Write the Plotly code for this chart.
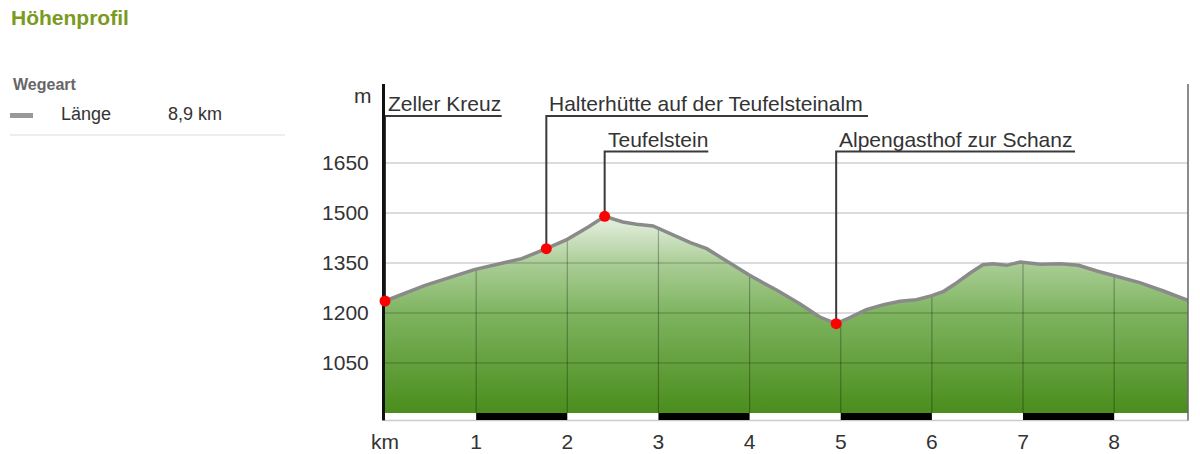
import numpy as np
import plotly.graph_objects as go

# ---------------- data ----------------
DIST_KM = [0.0, 0.44, 0.98, 1.28, 1.50, 1.77, 2.00, 2.23, 2.41, 2.61, 2.76, 2.94,
           3.16, 3.35, 3.53, 3.82, 4.00, 4.30, 4.55, 4.77, 4.95, 5.09, 5.28, 5.47,
           5.65, 5.83, 6.00, 6.13, 6.27, 6.42, 6.56, 6.67, 6.82, 6.97, 7.19, 7.41,
           7.61, 7.81, 8.01, 8.28, 8.54, 8.81]
ELEV_M = [1236, 1283, 1330, 1348, 1363, 1393, 1421, 1458, 1490, 1473, 1466, 1461,
          1433, 1411, 1393, 1343, 1313, 1268, 1228, 1188, 1168, 1185, 1210, 1225,
          1235, 1240, 1252, 1265, 1290, 1320, 1345, 1348, 1343, 1353, 1346, 1348,
          1343, 1326, 1310, 1291, 1266, 1238]

WAYPOINT_NAMES = ["Zeller Kreuz", "Halterhütte auf der Teufelsteinalm",
                  "Teufelstein", "Alpengasthof zur Schanz"]
WAYPOINT_KM = [0.0, 1.77, 2.41, 4.95]
WAYPOINT_ELEV = [1236, 1393, 1490, 1168]

Y_TICKS = [1050, 1200, 1350, 1500, 1650]
X_TICKS = [0, 1, 2, 3, 4, 5, 6, 7, 8]
X_TICK_LABELS = ["km", "1", "2", "3", "4", "5", "6", "7", "8"]

TITLE = "Höhenprofil"
LEGEND_HEADER = "Wegeart"
LEGEND_ITEM = "Länge"
ROUTE_LENGTH = "8,9 km"

# ---------------- layout constants ----------------
W, H = 1200, 454
ML, MR, MT, MB = 385, 12, 84, 41
PW, PH = W - ML - MR, H - MT - MB
Y_RANGE = [900, 1887]
X_MAX = max(DIST_KM)
FONT = "Liberation Sans, Arial, sans-serif"
TEXT_COL = "#333333"


def px(x):   # pixel x -> paper
    return (x - ML) / PW


def py(y):   # pixel y -> paper
    return (H - MB - y) / PH


def y_data(y):  # pixel y -> data y
    return Y_RANGE[0] + py(y) * (Y_RANGE[1] - Y_RANGE[0])


def x_data(x):  # pixel x -> data x
    return px(x) * X_MAX


# label placement (pixel positions of the underline level and underline end)
LABEL_LEVEL = [y_data(116), y_data(116), y_data(151.5), y_data(151.5)]
LABEL_END = [x_data(501.7), x_data(868), x_data(708.3), x_data(1075)]

fig = go.Figure()

# filled profile area with vertical gradient
fig.add_trace(go.Scatter(
    x=DIST_KM, y=ELEV_M, mode="lines", line=dict(width=0),
    fill="tozeroy",
    fillgradient=dict(type="vertical", start=900, stop=1490,
                      colorscale=[[0.0, "#4a8d1c"], [0.5, "#7db35e"],
                                  [0.76, "#aacd96"], [1.0, "#e8f1e3"]]),
    hoverinfo="skip"))

# grid lines (horizontal across, vertical only under the profile)
gx, gy = [], []
for t in Y_TICKS:
    gx += [0, X_MAX, None]
    gy += [t, t, None]
for k in X_TICKS[1:]:
    gx += [k, k, None]
    gy += [Y_RANGE[0], float(np.interp(k, DIST_KM, ELEV_M)), None]
fig.add_trace(go.Scatter(x=gx, y=gy, mode="lines",
                         line=dict(color="rgba(0,0,0,0.28)", width=1.2),
                         hoverinfo="skip"))

# profile line
fig.add_trace(go.Scatter(x=DIST_KM, y=ELEV_M, mode="lines",
                         line=dict(color="#8a8a8a", width=3.5),
                         hoverinfo="skip"))

# pointer lines to labels
lx, ly = [], []
for k, e, lvl, end in zip(WAYPOINT_KM, WAYPOINT_ELEV, LABEL_LEVEL, LABEL_END):
    lx += [k, k, end, None]
    ly += [e, lvl, lvl, None]
fig.add_trace(go.Scatter(x=lx, y=ly, mode="lines",
                         line=dict(color="#3a3a3a", width=2),
                         hoverinfo="skip"))

# waypoint markers
fig.add_trace(go.Scatter(x=WAYPOINT_KM, y=WAYPOINT_ELEV, mode="markers",
                         marker=dict(color="#ff0000", size=11),
                         cliponaxis=False, hoverinfo="skip"))

annotations = []
for name, k, lvl in zip(WAYPOINT_NAMES, WAYPOINT_KM, LABEL_LEVEL):
    annotations.append(dict(x=k, y=lvl, xref="x", yref="y", text=name,
                            showarrow=False, xanchor="left", yanchor="middle",
                            xshift=1, yshift=12.5,
                            font=dict(family=FONT, size=21, color=TEXT_COL)))

# unit label "m"
annotations.append(dict(x=px(373.7), y=py(95.6), xref="paper", yref="paper",
                        text="m", showarrow=False, xanchor="right",
                        yanchor="middle",
                        font=dict(family=FONT, size=21, color=TEXT_COL)))

# left legend block
annotations.append(dict(x=px(11), y=py(85), xref="paper", yref="paper",
                        text="<b>" + LEGEND_HEADER + "</b>", showarrow=False,
                        xanchor="left", yanchor="middle",
                        font=dict(family=FONT, size=16, color="#666666")))
annotations.append(dict(x=px(59), y=py(114.4), xref="paper", yref="paper",
                        text=LEGEND_ITEM, showarrow=False,
                        xanchor="left", yanchor="middle",
                        font=dict(family=FONT, size=18, color=TEXT_COL)))
annotations.append(dict(x=px(166), y=py(114.4), xref="paper", yref="paper",
                        text=ROUTE_LENGTH, showarrow=False,
                        xanchor="left", yanchor="middle",
                        font=dict(family=FONT, size=18, color=TEXT_COL)))

shapes = []
# legend dash and separator
shapes.append(dict(type="line", xref="paper", yref="paper",
                   x0=px(10), x1=px(33), y0=py(115.5), y1=py(115.5),
                   line=dict(color="#999999", width=5)))
shapes.append(dict(type="line", xref="paper", yref="paper",
                   x0=px(10), x1=px(285), y0=py(135), y1=py(135),
                   line=dict(color="#dddddd", width=1)))

# scale bar under the plot
bar_bottom = -7.0 / PH
shapes.append(dict(type="line", xref="x", yref="paper", x0=0, x1=X_MAX,
                   y0=-7.5 / PH, y1=-7.5 / PH,
                   line=dict(color="#cccccc", width=1.5)))
for k in X_TICKS[1::2]:
    shapes.append(dict(type="rect", xref="x", yref="paper",
                       x0=k, x1=min(k + 1, X_MAX), y0=bar_bottom, y1=0,
                       fillcolor="#000000", line=dict(width=0)))
# left axis extension and right border
shapes.append(dict(type="line", xref="paper", yref="paper",
                   x0=-1.5 / PW, x1=-1.5 / PW, y0=-7.5 / PH, y1=0,
                   line=dict(color="#111111", width=3)))
shapes.append(dict(type="line", xref="paper", yref="paper",
                   x0=1, x1=1, y0=-7.5 / PH, y1=1,
                   line=dict(color="#666666", width=1.5)))

fig.update_layout(
    width=W, height=H,
    margin=dict(l=ML, r=MR, t=MT, b=MB, pad=0, autoexpand=False),
    paper_bgcolor="white", plot_bgcolor="white",
    showlegend=False, hovermode=False,
    title=dict(text="<b>" + TITLE + "</b>", x=11 / W, xanchor="left",
               y=1 - 17.6 / H, yanchor="middle", xref="container",
               yref="container",
               font=dict(family=FONT, size=21, color="#7a9a22")),
    xaxis=dict(range=[0, X_MAX], tickvals=X_TICKS, ticktext=X_TICK_LABELS,
               showgrid=False, zeroline=False, showline=False,
               automargin=False,
               ticks="outside", ticklen=10, tickcolor="rgba(0,0,0,0)",
               tickfont=dict(family=FONT, size=21, color=TEXT_COL),
               fixedrange=True),
    yaxis=dict(range=Y_RANGE, tickvals=Y_TICKS,
               showgrid=False, zeroline=False, showline=True,
               automargin=False,
               linecolor="#111111", linewidth=3, layer="below traces",
               ticks="outside", ticklen=9, tickcolor="rgba(0,0,0,0)",
               tickfont=dict(family=FONT, size=21, color=TEXT_COL),
               fixedrange=True),
    annotations=annotations,
    shapes=shapes,
)

fig.write_html(
    "out.html",
    config={"displayModeBar": False},
    post_script="document.body.style.margin='0';"
                "document.body.style.overflow='hidden';",
)
